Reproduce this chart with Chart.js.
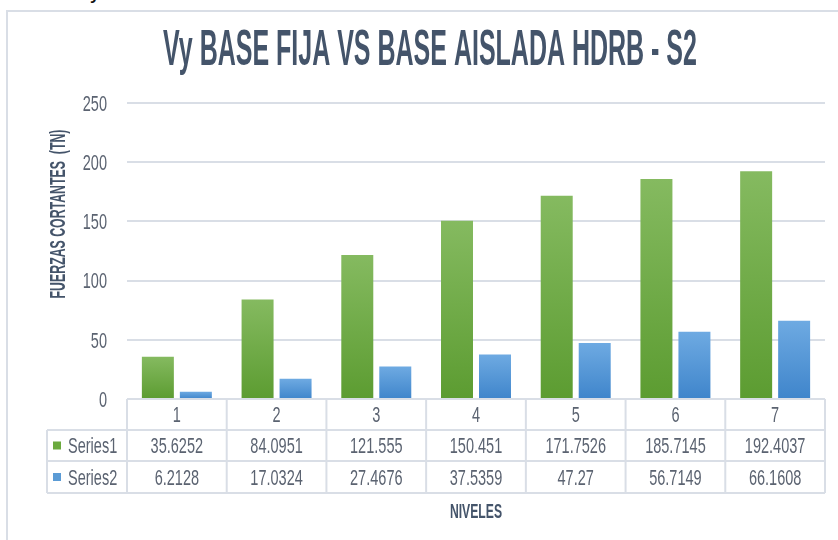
<!DOCTYPE html>
<html>
<head>
<meta charset="utf-8">
<script src="https://cdn.jsdelivr.net/npm/chart.js@4/dist/chart.umd.min.js"></script>
<style>
  html, body { margin: 0; padding: 0; background: #fff; overflow: hidden; }
  #wrap { position: relative; width: 838px; height: 540px; }
  #frame { position: absolute; left: 6px; top: 10px; width: 900px; height: 600px; border: 2px solid #D9DEE6; }
  #story { position: absolute; left: 56px; top: -15px; font: bold 17px "Liberation Sans", sans-serif; color: #111; }
  #chart { position: absolute; left: 0; top: 0; }
</style>
</head>
<body>
<div id="wrap">
  <div id="story">Story:</div>
  <div id="frame"></div>
  <canvas id="chart" width="838" height="540"></canvas>
</div>
<script>
var niveles = ['1', '2', '3', '4', '5', '6', '7'];
var series1 = [35.6252, 84.0951, 121.555, 150.451, 171.7526, 185.7145, 192.4037];
var series2 = [6.2128, 17.0324, 27.4676, 37.5359, 47.27, 56.7149, 66.1608];
var yTicks = [0, 50, 100, 150, 200, 250];

var titleText = 'Vy BASE FIJA VS BASE AISLADA HDRB - S2';
var yTitleText = 'FUERZAS CORTANTES  (TN)';
var xTitleText = 'NIVELES';

var slate = '#44546A';
var textGray = '#5B6371';
var lineGray = '#D9DEE6';

// narrow text: plain sans squeezed sideways
function condText(ctx, text, x, y, size, bold, color, sx, align) {
  ctx.save();
  ctx.font = (bold ? 'bold ' : '') + size + 'px "Liberation Sans", Arial, sans-serif';
  ctx.fillStyle = color;
  ctx.textAlign = align || 'center';
  ctx.textBaseline = 'alphabetic';
  ctx.translate(x, y + size * 0.358);
  ctx.scale(sx, 1);
  ctx.fillText(text, 0, 0);
  ctx.restore();
}

function barFill(light, dark) {
  return function (c) {
    var chart = c.chart;
    if (!chart.chartArea || c.type !== 'data') return dark;
    var y = chart.scales.y;
    var g = chart.ctx.createLinearGradient(0, y.getPixelForValue(c.raw), 0, y.getPixelForValue(0));
    g.addColorStop(0, light);
    g.addColorStop(1, dark);
    return g;
  };
}

var sheet = {
  id: 'sheet',
  afterDraw: function (chart) {
    var ctx = chart.ctx;
    var area = chart.chartArea;
    var x = chart.scales.x;
    var y = chart.scales.y;
    var colW = (area.right - area.left) / niveles.length;
    var rows = [area.bottom, area.bottom + 31, area.bottom + 62, area.bottom + 94];
    var legLeft = 47;

    // title
    condText(ctx, titleText, 430, 47, 50, true, slate, 0.5);

    // y tick labels
    y.ticks.forEach(function (t) {
      condText(ctx, String(t.value), 107, y.getPixelForValue(t.value), 22, false, textGray, 0.66, 'right');
    });

    // y title
    ctx.save();
    ctx.translate(57, 214);
    ctx.rotate(-Math.PI / 2);
    condText(ctx, yTitleText, 0, 0, 22, true, slate, 0.56);
    ctx.restore();

    // data table grid
    ctx.save();
    ctx.strokeStyle = lineGray;
    ctx.lineWidth = 2;
    ctx.beginPath();
    ctx.moveTo(area.left, rows[0]); ctx.lineTo(area.right, rows[0]);
    for (var r = 1; r < rows.length; r++) {
      ctx.moveTo(legLeft, rows[r]); ctx.lineTo(area.right, rows[r]);
    }
    ctx.moveTo(legLeft, rows[1]); ctx.lineTo(legLeft, rows[3]);
    for (var i = 0; i <= niveles.length; i++) {
      var bx = area.left + i * colW;
      ctx.moveTo(bx, rows[0]); ctx.lineTo(bx, rows[3]);
    }
    ctx.stroke();
    ctx.restore();

    // category row
    niveles.forEach(function (n, i) {
      condText(ctx, n, x.getPixelForValue(i), (rows[0] + rows[1]) / 2, 22, false, textGray, 0.66);
    });

    // series rows
    chart.data.datasets.forEach(function (ds, k) {
      var cy = (rows[k + 1] + rows[k + 2]) / 2;
      ctx.fillStyle = ds.legendColor;
      ctx.fillRect(53, cy - 4, 8, 8);
      condText(ctx, ds.label, 68, cy, 22, false, textGray, 0.66, 'left');
      ds.data.forEach(function (v, i) {
        condText(ctx, String(v), x.getPixelForValue(i), cy, 22, false, textGray, 0.66);
      });
    });

    // x title
    condText(ctx, xTitleText, (area.left + area.right) / 2, 510, 21, true, slate, 0.58);
  }
};

var config = {
  type: 'bar',
  data: {
    labels: niveles,
    datasets: [{
      label: 'Series1',
      data: series1,
      legendColor: '#6BAA3E',
      backgroundColor: barFill('#85BA60', '#5C9C31'),
      borderWidth: 0
    }, {
      label: 'Series2',
      data: series2,
      legendColor: '#5B9BD5',
      backgroundColor: barFill('#6EAAE2', '#3F85CB'),
      borderWidth: 0
    }]
  },
  options: {
    responsive: false,
    animation: false,
    devicePixelRatio: 1,
    categoryPercentage: 0.762,
    barPercentage: 0.842,
    layout: { padding: { top: 103, right: 13, left: 0, bottom: 0 } },
    plugins: {
      legend: { display: false },
      title: { display: false },
      tooltip: { enabled: false }
    },
    scales: {
      x: {
        grid: { display: false },
        border: { display: false },
        ticks: { display: false },
        afterFit: function (s) { s.height = 141; }
      },
      y: {
        min: yTicks[0],
        max: yTicks[yTicks.length - 1],
        ticks: { display: false, stepSize: 50 },
        grid: { color: lineGray, lineWidth: 2, drawTicks: false },
        border: { display: false },
        afterFit: function (s) { s.width = 127; }
      }
    }
  },
  plugins: [sheet]
};

window.onload = function () {
  var ctx = document.getElementById('chart');
  window.myChart = new Chart(ctx, config);
};
</script>
</body>
</html>
